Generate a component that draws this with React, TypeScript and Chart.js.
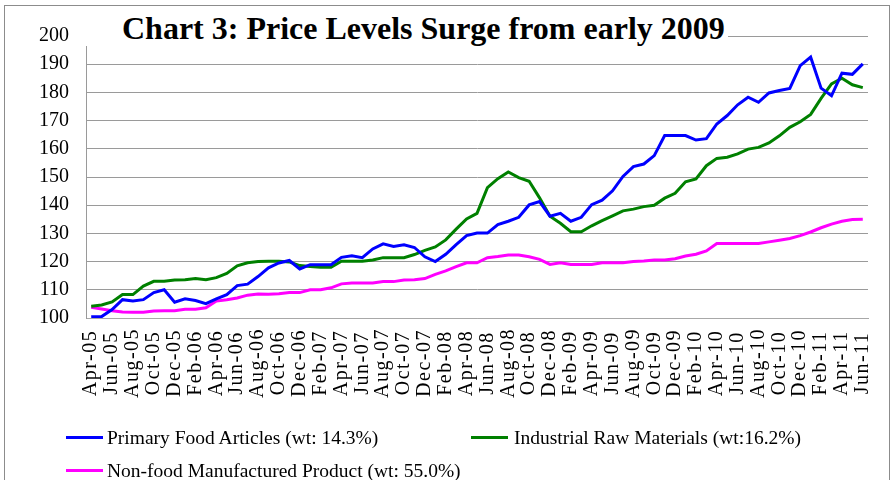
import React, { useEffect, useRef } from "react";
import { Chart, registerables } from "chart.js";

Chart.register(...registerables);

const months = [
  "Apr-05","May-05","Jun-05","Jul-05","Aug-05","Sep-05","Oct-05","Nov-05","Dec-05",
  "Jan-06","Feb-06","Mar-06","Apr-06","May-06","Jun-06","Jul-06","Aug-06","Sep-06","Oct-06","Nov-06","Dec-06",
  "Jan-07","Feb-07","Mar-07","Apr-07","May-07","Jun-07","Jul-07","Aug-07","Sep-07","Oct-07","Nov-07","Dec-07",
  "Jan-08","Feb-08","Mar-08","Apr-08","May-08","Jun-08","Jul-08","Aug-08","Sep-08","Oct-08","Nov-08","Dec-08",
  "Jan-09","Feb-09","Mar-09","Apr-09","May-09","Jun-09","Jul-09","Aug-09","Sep-09","Oct-09","Nov-09","Dec-09",
  "Jan-10","Feb-10","Mar-10","Apr-10","May-10","Jun-10","Jul-10","Aug-10","Sep-10","Oct-10","Nov-10","Dec-10",
  "Jan-11","Feb-11","Mar-11","Apr-11","May-11","Jun-11",
];

const primaryFood = [
  100.4, 100.5, 103, 106.5, 106, 106.5, 109, 110, 105.6,
  106.8, 106.2, 105.1, 106.8, 108.3, 111.5, 112, 114.7, 117.8, 119.5, 120.4, 117.4,
  118.9, 118.9, 118.9, 121.5, 122.1, 121.4, 124.5, 126.3, 125.4, 126, 125, 121.7,
  120, 122.6, 126, 129.2, 130.1, 130.1, 133.1, 134.3, 135.7, 140.1, 141.3, 136.1,
  137.1, 134.3, 135.7, 140.2, 141.8, 145.1, 150.2, 153.7, 154.6, 157.6, 164.7, 164.7,
  164.7, 163.1, 163.6, 168.8, 171.8, 175.6, 178.3, 176.5, 179.8, 180.7, 181.4, 189.5,
  192.5, 181.5, 178.8, 186.8, 186.4, 190.1,
];

const industrialRaw = [
  104.2, 104.6, 105.7, 108.3, 108.3, 111.3, 113, 113, 113.5,
  113.6, 114, 113.6, 114.3, 115.8, 118.5, 119.6, 120, 120.1, 120.1, 119.9, 118.6,
  118.3, 118, 118, 120.1, 120.1, 120.1, 120.6, 121.4, 121.4, 121.4, 122.5, 124,
  125.2, 127.7, 131.5, 135.1, 137.1, 146.2, 149.4, 151.8, 149.8, 148.5, 142.6, 136.1,
  133.6, 130.6, 130.6, 132.7, 134.5, 136.2, 138, 138.6, 139.5, 140, 142.5, 144.2,
  148.3, 149.3, 154, 156.6, 157, 158.2, 159.9, 160.5, 162.1, 164.6, 167.6, 169.6,
  172.2, 177.9, 183, 185, 182.7, 181.7,
];

const nonFoodMfg = [
  103.8, 103.2, 102.6, 102.1, 102, 102, 102.5, 102.6, 102.6,
  103.1, 103.1, 103.6, 106, 106.5, 107.1, 108.1, 108.5, 108.4, 108.6, 109, 109,
  110, 110, 110.7, 112.1, 112.4, 112.4, 112.4, 112.9, 112.9, 113.5, 113.6, 114,
  115.5, 116.7, 118.2, 119.6, 119.6, 121.4, 121.8, 122.3, 122.3, 121.7, 120.8, 119,
  119.6, 119, 119, 119, 119.6, 119.6, 119.6, 120, 120.2, 120.6, 120.6, 121,
  122, 122.6, 123.8, 126.4, 126.4, 126.4, 126.4, 126.4, 127, 127.6, 128.2, 129.2,
  130.5, 132, 133.3, 134.3, 134.9, 135,
];

const seriesNames = [
  "Primary Food Articles (wt: 14.3%)",
  "Industrial Raw Materials (wt:16.2%)",
  "Non-food Manufactured Product (wt: 55.0%)",
];
const seriesColors = ["#0000ff", "#008000", "#ff00ff"];
const titleText = "Chart 3: Price Levels Surge from early 2009";

const SERIF = '"Liberation Serif", "Times New Roman", serif';

const xLabelPlugin = {
  id: "xLabelsCentered",
  afterDraw(chart: any) {
    const ctx = chart.ctx;
    const xs = chart.scales.x;
    ctx.save();
    ctx.font = `20px ${SERIF}`;
    ctx.fillStyle = "#000";
    try { (ctx as any).letterSpacing = "1.5px"; } catch (e) {}
    ctx.textAlign = "center";
    ctx.textBaseline = "middle";
    months.forEach((m, i) => {
      if (i % 2 !== 0) return;
      const x = xs.getPixelForValue(i);
      ctx.save();
      ctx.translate(x, 363);
      ctx.rotate(-Math.PI / 2);
      ctx.fillText(m, 0, 0);
      ctx.restore();
    });
    ctx.restore();
  },
};

export default function App() {
  const ref = useRef<HTMLCanvasElement | null>(null);

  useEffect(() => {
    if (!ref.current) return;
    const data = [primaryFood, industrialRaw, nonFoodMfg];
    const chart = new Chart(ref.current, {
      type: "line",
      data: {
        labels: months,
        datasets: data.map((d, k) => ({
          label: seriesNames[k],
          data: d,
          borderColor: seriesColors[k],
          backgroundColor: seriesColors[k],
          borderWidth: 3,
          pointRadius: 0,
          tension: 0,
          fill: false,
        })),
      },
      options: {
        responsive: false,
        animation: false,
        devicePixelRatio: 1,
        layout: { padding: { left: 0, top: 36, right: 23, bottom: 82 } },
        plugins: {
          legend: { display: false },
          title: { display: false },
          tooltip: { enabled: false },
        },
        scales: {
          x: {
            type: "category",
            offset: true,
            grid: { display: false },
            border: { display: true, color: "#a8a8a8", width: 1 },
            ticks: { display: false },
            afterFit: (s: any) => { s.height = 80; },
          },
          y: {
            min: 100,
            max: 200,
            ticks: {
              stepSize: 10,
              color: "#000",
              padding: 17,
              font: { family: SERIF, size: 20 },
            },
            grid: { color: "#9a9a9a", lineWidth: 1, drawTicks: false },
            border: { display: true, color: "#9a9a9a", width: 1 },
            afterFit: (s: any) => { s.width = 86; },
          },
        },
      },
      plugins: [xLabelPlugin],
    });
    return () => chart.destroy();
  }, []);

  const legendLine = (left: number, top: number, color: string) => (
    <div style={{ position: "absolute", left, top, width: 37, height: 3, background: color }} />
  );
  const legendText = (left: number, top: number, text: string) => (
    <div
      style={{
        position: "absolute",
        left,
        top,
        fontFamily: SERIF,
        fontSize: "19.5px",
        lineHeight: "22px",
        whiteSpace: "nowrap",
        color: "#000",
      }}
    >
      {text}
    </div>
  );

  return (
    <div style={{ position: "absolute", left: 0, top: 0, width: 891, height: 480, background: "#fff", overflow: "hidden" }}>
      <canvas ref={ref} width={891} height={480} style={{ position: "absolute", left: 0, top: 0, width: 891, height: 480 }} />
      <div
        style={{
          position: "absolute",
          left: 4,
          top: 5,
          width: 884,
          height: 500,
          border: "1px solid #8c8c8c",
          pointerEvents: "none",
        }}
      />
      <div
        style={{
          position: "absolute",
          left: 80,
          top: 10,
          width: 606,
          paddingLeft: 42,
          background: "#fff",
          fontFamily: SERIF,
          fontWeight: "bold",
          fontSize: "32px",
          lineHeight: "36px",
          whiteSpace: "nowrap",
          color: "#000",
        }}
      >
        {titleText}
      </div>
      {legendLine(66, 436, seriesColors[0])}
      {legendText(107, 427, seriesNames[0])}
      {legendLine(471, 436, seriesColors[1])}
      {legendText(514, 427, seriesNames[1])}
      {legendLine(66, 469, seriesColors[2])}
      {legendText(107, 460, seriesNames[2])}
    </div>
  );
}
